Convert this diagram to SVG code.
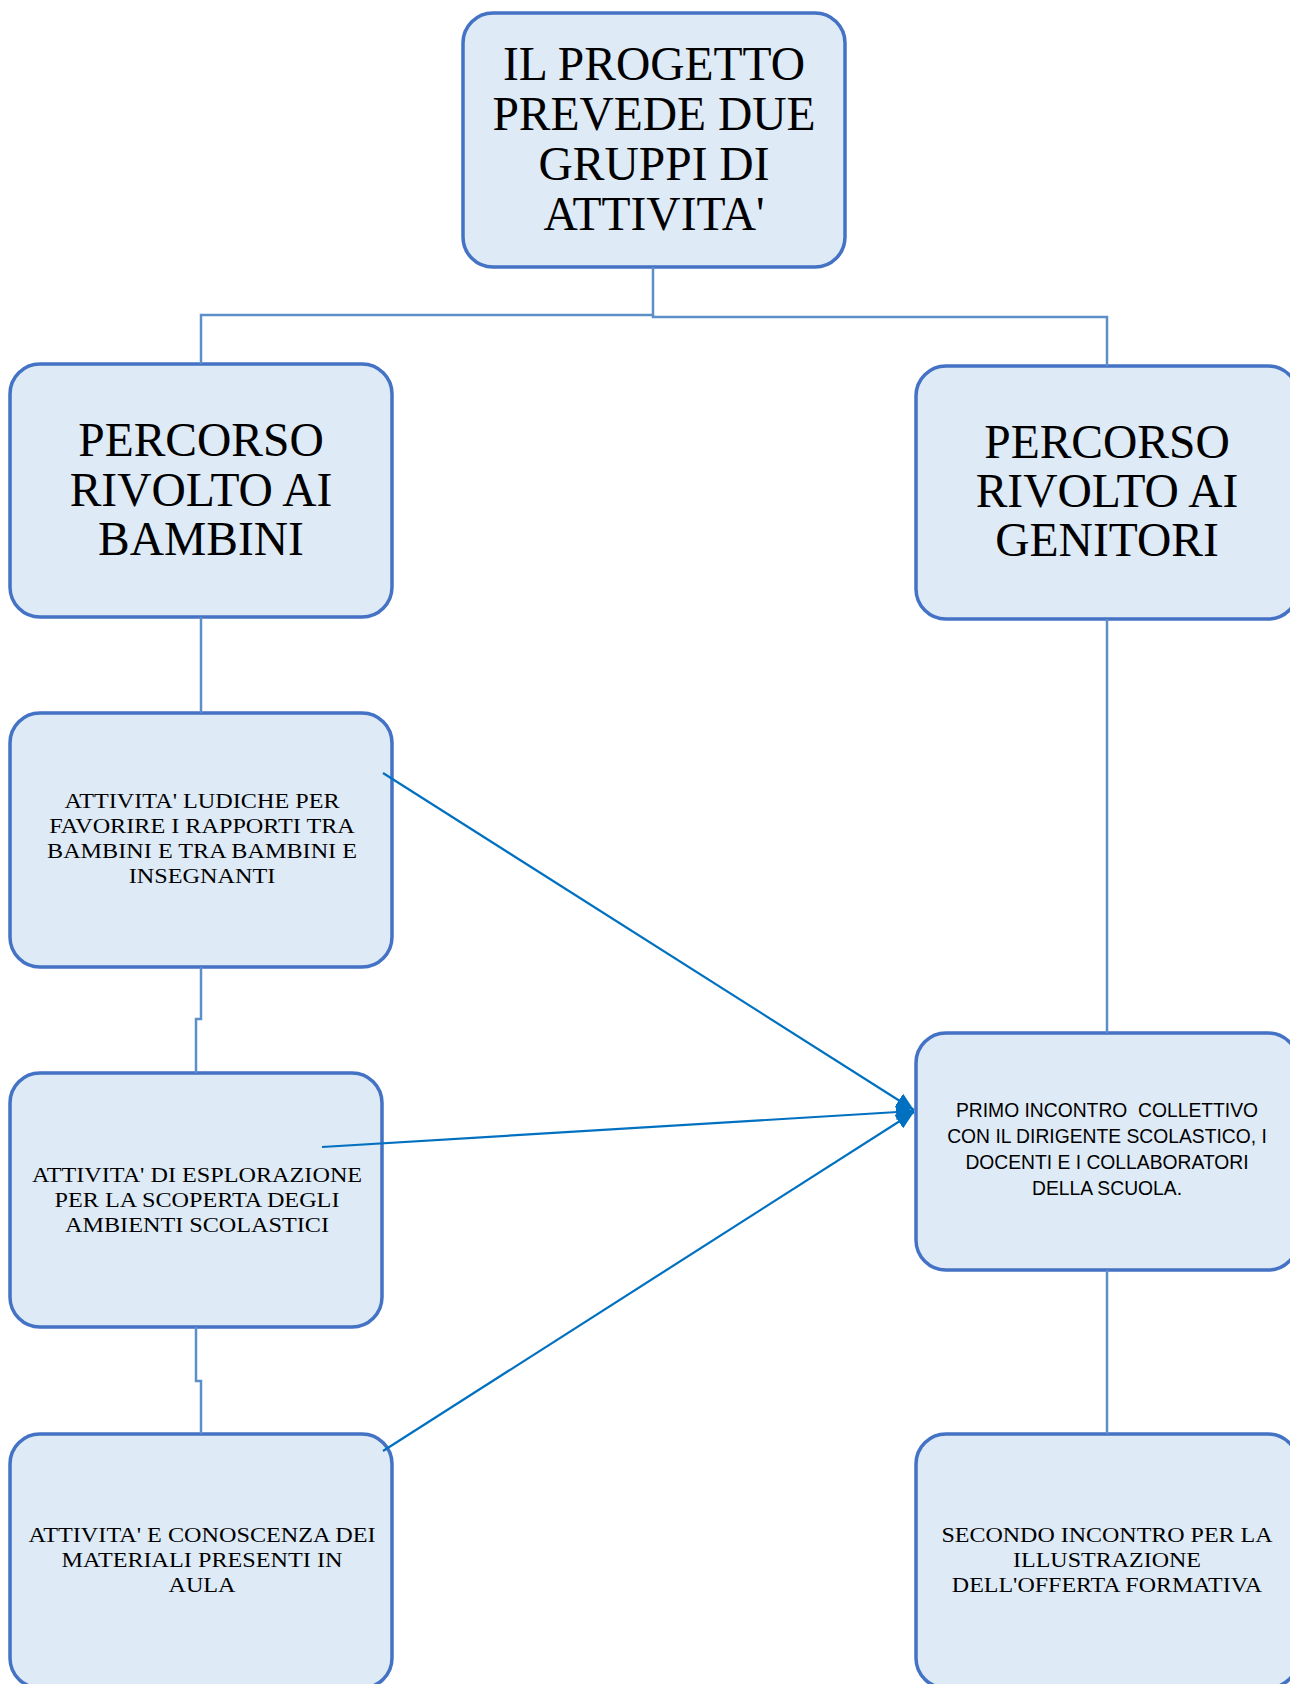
<svg xmlns="http://www.w3.org/2000/svg" width="1290" height="1684" viewBox="0 0 1290 1684">
<style>
.box{fill:#DEEAF6;stroke:#4472C4;stroke-width:3.5}
.t{font-family:"Liberation Serif","Times New Roman",serif;fill:#000;text-anchor:middle}
.big{font-size:47.5px}
.sm{font-size:20px}
.sans{font-family:"Liberation Sans",Arial,sans-serif;font-size:19.3px;fill:#000;text-anchor:middle}
.conn{fill:none;stroke:#5B8FC7;stroke-width:2.5}
.arr{fill:none;stroke:#0070C0;stroke-width:2.2}
</style>
<defs>
<marker id="ah" markerUnits="userSpaceOnUse" markerWidth="20" markerHeight="16" refX="18" refY="8" orient="auto">
<path d="M0,0 L18,8 L0,16 Z" fill="#0070C0"/>
</marker>
</defs>
<rect width="1290" height="1684" fill="#fff"/>
<g id="n-top">
<rect class="box" x="463" y="13" width="382" height="254" rx="30"/>
<text class="t big" x="654" y="80">IL PROGETTO</text>
<text class="t big" x="654" y="130">PREVEDE DUE</text>
<text class="t big" x="654" y="180">GRUPPI DI</text>
<text class="t big" x="654" y="230">ATTIVITA'</text>
</g>
<g id="n-bambini">
<rect class="box" x="10" y="364" width="382" height="253" rx="30"/>
<text class="t big" x="201" y="456">PERCORSO</text>
<text class="t big" x="201" y="506">RIVOLTO AI</text>
<text class="t big" x="201" y="555">BAMBINI</text>
</g>
<g id="n-genitori">
<rect class="box" x="916" y="366" width="382" height="253" rx="30"/>
<text class="t big" x="1107" y="458">PERCORSO</text>
<text class="t big" x="1107" y="507">RIVOLTO AI</text>
<text class="t big" x="1107" y="556">GENITORI</text>
</g>
<g id="n-ludiche">
<rect class="box" x="10" y="713" width="382" height="254" rx="30"/>
<g transform="translate(202,0) scale(1.21,1)">
<text class="t sm" x="0" y="808">ATTIVITA' LUDICHE PER</text>
<text class="t sm" x="0" y="833">FAVORIRE I RAPPORTI TRA</text>
<text class="t sm" x="0" y="858">BAMBINI E TRA BAMBINI E</text>
<text class="t sm" x="0" y="883">INSEGNANTI</text>
</g>
</g>
<g id="n-esplorazione">
<rect class="box" x="10" y="1073" width="372" height="254" rx="30"/>
<g transform="translate(197,0) scale(1.21,1)">
<text class="t sm" x="0" y="1182">ATTIVITA' DI ESPLORAZIONE</text>
<text class="t sm" x="0" y="1207">PER LA SCOPERTA DEGLI</text>
<text class="t sm" x="0" y="1232">AMBIENTI SCOLASTICI</text>
</g>
</g>
<g id="n-materiali">
<rect class="box" x="10" y="1434" width="382" height="254" rx="30"/>
<g transform="translate(202,0) scale(1.21,1)">
<text class="t sm" x="0" y="1542">ATTIVITA' E CONOSCENZA DEI</text>
<text class="t sm" x="0" y="1567">MATERIALI PRESENTI IN</text>
<text class="t sm" x="0" y="1592">AULA</text>
</g>
</g>
<g id="n-primo">
<rect class="box" x="916" y="1033" width="382" height="237" rx="30"/>
<text class="sans" x="1107" y="1117" xml:space="preserve">PRIMO INCONTRO  COLLETTIVO</text>
<text class="sans" x="1107" y="1143">CON IL DIRIGENTE SCOLASTICO, I</text>
<text class="sans" x="1107" y="1169">DOCENTI E I COLLABORATORI</text>
<text class="sans" x="1107" y="1195">DELLA SCUOLA.</text>
</g>
<g id="n-secondo">
<rect class="box" x="916" y="1434" width="382" height="254" rx="30"/>
<g transform="translate(1107,0) scale(1.2,1)">
<text class="t sm" x="0" y="1542">SECONDO INCONTRO PER LA</text>
<text class="t sm" x="0" y="1567">ILLUSTRAZIONE</text>
<text class="t sm" x="0" y="1592">DELL'OFFERTA FORMATIVA</text>
</g>
</g>
<g id="connectors">
<path class="conn" d="M653,267 V315 H201 V364"/>
<path class="conn" d="M653,315 V317 H1107 V366"/>
<path class="conn" d="M201,617 V713"/>
<path class="conn" d="M201,967 V1019 H196 V1073"/>
<path class="conn" d="M196,1327 V1381 H201 V1434"/>
<path class="conn" d="M1107,619 V1033"/>
<path class="conn" d="M1107,1270 V1434"/>
<line class="arr" x1="383" y1="773" x2="914" y2="1110" marker-end="url(#ah)"/>
<line class="arr" x1="322" y1="1147" x2="914" y2="1111" marker-end="url(#ah)"/>
<line class="arr" x1="383" y1="1451" x2="914" y2="1112" marker-end="url(#ah)"/>
</g>
</svg>
